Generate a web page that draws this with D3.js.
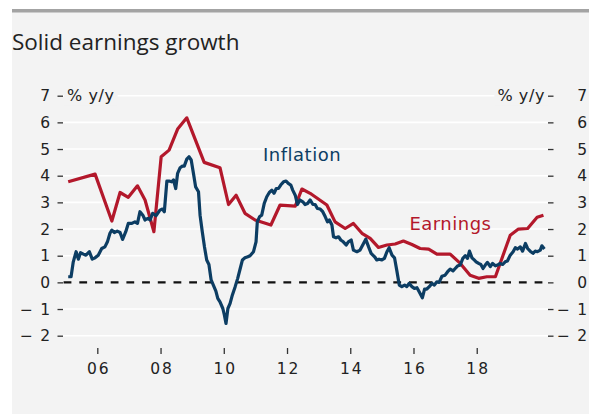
<!DOCTYPE html>
<html>
<head>
<meta charset="utf-8">
<script src="https://cdn.jsdelivr.net/npm/d3@7/dist/d3.min.js"></script>
<style>
  body { margin: 0; background: #ffffff; }
  svg { display: block; }
</style>
</head>
<body>
<svg id="chart" width="589" height="414"></svg>
<script>
// Consumer price inflation, % y/y (monthly, decimal years)
const inflationDates = [
  2005.08, 2005.17, 2005.24, 2005.33, 2005.40, 2005.47, 2005.56, 2005.64, 2005.75, 2005.84, 2005.93,
  2006.03, 2006.14, 2006.24, 2006.32, 2006.40, 2006.46, 2006.54, 2006.63, 2006.72, 2006.80, 2006.90, 2006.98,
  2007.09, 2007.19, 2007.27, 2007.35, 2007.44, 2007.51, 2007.60, 2007.67, 2007.75, 2007.86, 2007.98,
  2008.06, 2008.12, 2008.20, 2008.27, 2008.35, 2008.41, 2008.48, 2008.54, 2008.62, 2008.69, 2008.75, 2008.83, 2008.90, 2008.97,
  2009.04, 2009.11, 2009.20, 2009.25, 2009.32, 2009.39, 2009.46, 2009.53, 2009.60, 2009.67, 2009.75, 2009.81, 2009.88, 2009.97,
  2010.02, 2010.07, 2010.13, 2010.20, 2010.27, 2010.36, 2010.44, 2010.52, 2010.59, 2010.67, 2010.76, 2010.83, 2010.94,
  2011.02, 2011.06, 2011.13, 2011.20, 2011.28, 2011.36, 2011.44, 2011.52, 2011.59, 2011.66, 2011.73, 2011.80, 2011.89, 2011.97,
  2012.04, 2012.12, 2012.18, 2012.26, 2012.33, 2012.41, 2012.50, 2012.57, 2012.65, 2012.73, 2012.82, 2012.89, 2012.96,
  2013.05, 2013.13, 2013.21, 2013.28, 2013.34, 2013.42, 2013.47, 2013.55, 2013.63, 2013.70, 2013.78, 2013.87, 2013.94,
  2014.03, 2014.10, 2014.21, 2014.31, 2014.42, 2014.49, 2014.58, 2014.66, 2014.77, 2014.84, 2014.91,
  2015.00, 2015.08, 2015.16, 2015.23, 2015.32, 2015.40, 2015.47, 2015.55, 2015.63, 2015.72, 2015.79, 2015.86, 2015.95,
  2016.03, 2016.11, 2016.18, 2016.28, 2016.35, 2016.42, 2016.50, 2016.58, 2016.66, 2016.74, 2016.81, 2016.90,
  2017.00, 2017.08, 2017.16, 2017.25, 2017.32, 2017.39, 2017.48, 2017.56, 2017.64, 2017.71, 2017.77, 2017.85, 2017.92, 2017.98,
  2018.06, 2018.13, 2018.20, 2018.27, 2018.34, 2018.43, 2018.50, 2018.59, 2018.66, 2018.74, 2018.82, 2018.90, 2018.97,
  2019.06, 2019.15, 2019.22, 2019.29, 2019.38, 2019.45, 2019.54, 2019.61, 2019.69, 2019.78, 2019.85, 2019.92,
  2020.01, 2020.06, 2020.14
];
const inflationValues = [
  0.21, 0.21, 0.77, 1.15, 0.87, 1.11, 1.06, 1.02, 1.15, 0.87, 0.92,
  1.02, 1.27, 1.33, 1.52, 1.84, 1.96, 1.87, 1.92, 1.87, 1.61, 1.90, 2.21,
  2.21, 2.27, 2.21, 2.65, 2.52, 2.34, 2.40, 2.34, 2.59, 2.50, 2.71,
  2.75, 2.65, 3.80, 3.80, 3.77, 3.84, 3.52, 4.09, 4.30, 4.36, 4.36, 4.62, 4.71, 4.59,
  4.09, 3.58, 3.40, 2.52, 1.90, 1.33, 0.84, 0.67, 0.09, -0.10, -0.33, -0.60, -0.73, -0.98,
  -1.23, -1.54, -0.98, -0.79, -0.48, -0.16, 0.15, 0.52, 0.84, 0.92, 0.96, 1.00, 1.15,
  1.52, 2.27, 2.46, 2.52, 2.96, 3.21, 3.37, 3.46, 3.34, 3.52, 3.52, 3.65, 3.77, 3.80,
  3.71, 3.65, 3.46, 3.27, 2.92, 3.09, 3.02, 2.92, 2.96, 3.09, 2.92, 2.92, 2.77,
  2.75, 2.65, 2.46, 2.27, 2.34, 2.15, 1.71, 1.67, 1.71, 1.59, 1.52, 1.40, 1.52,
  1.59, 1.21, 1.15, 1.21, 1.46, 1.62, 1.33, 1.09, 0.96, 0.84, 0.87,
  0.84, 0.90, 1.15, 1.30, 1.02, 0.92, 0.46, -0.10, -0.16, -0.10, -0.16, -0.04, -0.16,
  -0.23, -0.20, -0.35, -0.58, -0.25, -0.25, -0.16, -0.04, -0.10, 0.02, 0.00, 0.23,
  0.27, 0.40, 0.50, 0.43, 0.52, 0.61, 0.65, 0.90, 1.00, 0.90, 1.17, 0.92, 0.84, 0.77,
  0.71, 0.67, 0.52, 0.65, 0.75, 0.59, 0.71, 0.62, 0.65, 0.71, 0.67, 0.77, 0.80,
  1.02, 1.15, 1.30, 1.25, 1.33, 1.17, 1.46, 1.27, 1.17, 1.09, 1.17, 1.15,
  1.21, 1.37, 1.25
];

// Earnings growth, % y/y (quarterly turning points, decimal years)
const earningsDates = [
  2005.08, 2005.93, 2006.46, 2006.72, 2006.98, 2007.27, 2007.51, 2007.79,
  2008.02, 2008.27, 2008.54, 2008.83, 2009.38, 2009.88, 2010.15, 2010.39, 2010.67, 2010.99,
  2011.49, 2011.78, 2012.26, 2012.47, 2012.73, 2013.26, 2013.52, 2013.84,
  2014.10, 2014.37, 2014.63, 2014.89, 2015.16, 2015.42, 2015.68, 2015.95,
  2016.21, 2016.48, 2016.74, 2017.00, 2017.16, 2017.48, 2017.79,
  2018.06, 2018.32, 2018.59, 2019.06, 2019.32, 2019.61, 2019.91, 2020.11
];
const earningsValues = [
  3.77, 4.06, 2.30, 3.37, 3.19, 3.62, 3.09, 1.90,
  4.71, 4.96, 5.75, 6.17, 4.50, 4.30, 2.92, 3.27, 2.59, 2.34,
  2.15, 2.90, 2.86, 3.50, 3.34, 2.90, 2.27, 2.02,
  2.21, 1.84, 1.65, 1.31, 1.40, 1.44, 1.55, 1.42,
  1.27, 1.25, 1.06, 1.06, 1.06, 0.71, 0.27,
  0.15, 0.21, 0.21, 1.77, 2.00, 2.02, 2.44, 2.52
];

const yTickValues = [-2, -1, 0, 1, 2, 3, 4, 5, 6, 7];
const xTickValues = [2006, 2008, 2010, 2012, 2014, 2016, 2018];
const xTickLabels = ["06", "08", "10", "12", "14", "16", "18"];

const titleText = "Solid earnings growth";
const unitText = "% y/y";
const seriesNames = ["Inflation", "Earnings"];
const seriesColors = ["#0c3d63", "#b3182b"];
// label anchor points in data space: [year, value]
const labelAnchors = [[2011.24, 4.55], [2015.87, 1.96]];

const svg = d3.select("#chart");
const W = 589, H = 414;
const plot = { left: 63, right: 548, top: 95.7, bottom: 335.7 };

const x = d3.scaleLinear().domain([2004.915, 2020.254]).range([plot.left, plot.right]);
const y = d3.scaleLinear().domain([-2, 7]).range([plot.bottom, plot.top]);

const numFont = "'DejaVu Sans', sans-serif";
const textColor = "#222";

// panel background and header rule
svg.append("rect").attr("x", 12).attr("y", 9).attr("width", W - 12).attr("height", H - 9).attr("fill", "#f3f3f3");
svg.append("rect").attr("x", 12).attr("y", 9).attr("width", W - 12).attr("height", 3.5).attr("fill", "#a3a3a3");

svg.append("text")
  .attr("x", 12).attr("y", 50)
  .attr("font-family", "'Open Sans', sans-serif")
  .attr("font-size", 22.5)
  .attr("fill", textColor)
  .text(titleText);

// horizontal gridlines
svg.append("g").selectAll("line")
  .data(yTickValues.filter(v => v !== 0))
  .join("line")
  .attr("x1", plot.left).attr("x2", plot.right)
  .attr("y1", d => y(d)).attr("y2", d => y(d))
  .attr("stroke", "#ffffff").attr("stroke-width", 1.6);

const fmt = v => v < 0 ? "\u2212\u2009" + Math.abs(v) : String(v);

// left axis
const leftAxis = svg.append("g")
  .attr("transform", `translate(${plot.left},0)`)
  .call(d3.axisLeft(y).tickValues(yTickValues).tickSize(5.5).tickPadding(7).tickFormat(fmt));
// right axis
const rightAxis = svg.append("g")
  .attr("transform", `translate(${plot.right},0)`)
  .call(d3.axisRight(y).tickValues(yTickValues).tickSize(5.5).tickPadding(7).tickFormat(fmt));

[leftAxis, rightAxis].forEach(g => {
  g.select(".domain").remove();
  g.selectAll(".tick line").attr("stroke", "#333").attr("stroke-width", 1.3);
  g.selectAll(".tick text")
    .attr("font-family", numFont).attr("font-size", 15.5).attr("fill", textColor)
    .attr("letter-spacing", 2);
});
leftAxis.selectAll(".tick text").attr("x", -11);
rightAxis.selectAll(".tick text").attr("text-anchor", "end").attr("x", W - plot.right);

// bottom axis (no baseline)
const bottomAxis = svg.append("g")
  .attr("transform", `translate(0,348)`)
  .call(d3.axisBottom(x).tickValues(xTickValues).tickSize(6).tickPadding(8)
    .tickFormat((d, i) => xTickLabels[i]));
bottomAxis.select(".domain").remove();
bottomAxis.selectAll(".tick line").attr("stroke", "#333").attr("stroke-width", 1.3).attr("y1", 0);
bottomAxis.selectAll(".tick text")
  .attr("font-family", numFont).attr("font-size", 15.5).attr("fill", textColor)
  .attr("letter-spacing", 2).attr("dx", 1).attr("dy", "0.8em");

// unit labels sitting on the top gridline
function unitLabel(xPos, anchor) {
  const t = svg.append("text")
    .attr("x", xPos).attr("y", y(7)).attr("dy", "0.36em")
    .attr("text-anchor", anchor)
    .attr("font-family", numFont).attr("font-size", 16).attr("fill", textColor)
    .attr("letter-spacing", 0.6)
    .text(unitText);
  const b = t.node().getBBox();
  svg.insert("rect", () => t.node())
    .attr("x", b.x - 3).attr("y", b.y).attr("width", b.width + 6).attr("height", b.height)
    .attr("fill", "#f3f3f3");
}
unitLabel(plot.left + 4, "start");
unitLabel(plot.right - 3, "end");

// zero line
svg.append("line")
  .attr("x1", plot.left + 0.6).attr("x2", plot.right)
  .attr("y1", y(0)).attr("y2", y(0))
  .attr("stroke", "#111").attr("stroke-width", 2.4)
  .attr("stroke-dasharray", "7.8,7.9");

// series lines
const line = d3.line().x(d => x(d[0])).y(d => y(d[1]));
const earnings = earningsDates.map((d, i) => [d, earningsValues[i]]);
const inflation = inflationDates.map((d, i) => [d, inflationValues[i]]);

svg.append("path").datum(earnings)
  .attr("d", line).attr("fill", "none")
  .attr("stroke", seriesColors[1]).attr("stroke-width", 3.2).attr("stroke-linejoin", "round");
svg.append("path").datum(inflation)
  .attr("d", line).attr("fill", "none")
  .attr("stroke", seriesColors[0]).attr("stroke-width", 3.2).attr("stroke-linejoin", "round");

// series labels
seriesNames.forEach((name, i) => {
  svg.append("text")
    .attr("x", x(labelAnchors[i][0])).attr("y", y(labelAnchors[i][1]))
    .attr("font-family", numFont).attr("font-size", 18)
    .attr("letter-spacing", 0.5)
    .attr("fill", seriesColors[i])
    .text(name);
});
</script>
</body>
</html>
